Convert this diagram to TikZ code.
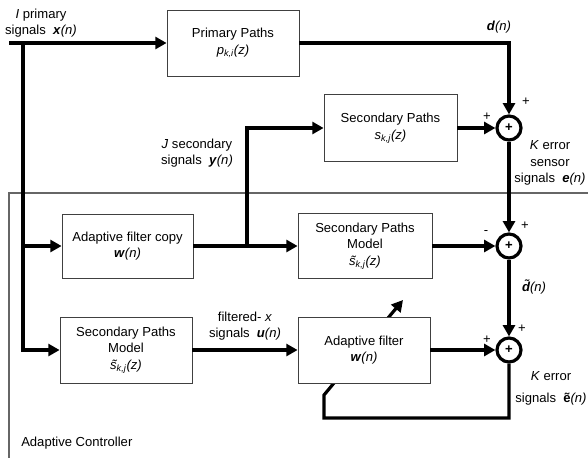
\documentclass[tikz,border=0pt]{standalone}
\usepackage{fontspec}
\setmainfont{Liberation Sans}
\usetikzlibrary{calc,arrows.meta,backgrounds}

\newcommand{\sgn}[1]{\textbf{\textit{#1}}\textit{(n)}}

\tikzset{
  blk/.style={draw=black!75,line width=0.6pt,fill=white,align=center,inner sep=1pt},
  sumnode/.style={circle,draw,line width=2.4pt,fill=white,minimum size=18pt,inner sep=0pt},
  sig/.style={line width=2.4pt,-{Triangle[length=8.5pt,width=9pt]}},
  wire/.style={line width=2.4pt},
  lbl/.style={align=center,inner sep=0pt},
}

\begin{document}
\begin{tikzpicture}[x=0.75pt,y=-0.75pt,font=\fontsize{9.8}{12.5}\selectfont]
  \useasboundingbox (0,0) rectangle (588,457);

  %% Blocks
  \node[blk,minimum width=99pt,minimum height=49.5pt] (PP) at (233,43)
    {Primary Paths\\ \textit{p\textsubscript{k,i}(z)}};
  \node[blk,minimum width=99.75pt,minimum height=50.25pt] (SP) at (390.5,128)
    {Secondary Paths\\ \textit{s\textsubscript{k,j}(z)}};
  \node[blk,minimum width=98.25pt,minimum height=48pt] (AFC) at (127.5,246)
    {Adaptive filter copy\\ \sgn{w}};
  \node[blk,minimum width=100.5pt,minimum height=48.75pt] (SPM) at (365,246)
    {Secondary Paths\\ Model\\ \textit{\~{s}\textsubscript{k,j}(z)}};
  \node[blk,minimum width=99pt,minimum height=49.5pt] (SPMF) at (126,350)
    {Secondary Paths\\ Model\\ \textit{\~{s}\textsubscript{k,j}(z)}};
  \node[blk,minimum width=99pt,minimum height=49.5pt] (AF) at (364,350)
    {Adaptive filter\\ \sgn{w}};

  %% Summing junctions
  \foreach \n/\y in {S1/128,S2/246,S3/350}
  {
    \node[sumnode] (\n) at (509,\y) {\textbf{+}};
  }

  %% Branch points and corners
  \coordinate (IN) at (9,43);
  \coordinate (J1) at (23,43);
  \coordinate (J2) at (23,246);
  \coordinate (J3) at (247,246);
  \coordinate (FB1) at (509,418);
  \coordinate (FB2) at (324,418);
  \coordinate (FB3) at (324,395);
  \coordinate (FB4) at (403,300);
  \coordinate (AC1) at (9,460);
  \coordinate (AC2) at (9,193);
  \coordinate (AC3) at (590,193);

  \begin{scope}[on background layer]
    \draw[draw=black!60,line width=0.9pt] (AC1) -- (AC2) -- (AC3);
    \draw[sig] (S3) -- (FB1) -- (FB2) -- (FB3) -- (FB4);
  \end{scope}

  %% Signal paths
  \draw[sig] (IN) -- (PP);
  \draw[sig] (J1) |- (SPMF);
  \draw[sig] (J2) -- (AFC);
  \draw[sig] (PP) -| (S1);
  \draw[sig] (AFC) -- (SPM);
  \draw[sig] (J3) |- (SP);
  \draw[sig] (SP) -- (S1);
  \draw[sig] (S1) -- (S2);
  \draw[sig] (SPM) -- (S2);
  \draw[sig] (S2) -- (S3);
  \draw[sig] (SPMF) -- (AF);
  \draw[sig] (AF) -- (S3);

  %% Labels
  \node[lbl] (Lx) at (41,23) {\textit{I} primary\\ signals~~\sgn{x}};
  \node[lbl] (Ld) at (499,27) {\sgn{d}};
  \node[lbl] (Ly) at (197,153) {\textit{J} secondary\\ signals~~\sgn{y}};
  \node[lbl] (Le) at (550,163) {\textit{K} error\\ sensor\\ signals~~\sgn{e}};
  \node[lbl] (Ldt) at (534,287) {\textbf{\textit{\~{d}}}\textit{(n)}};
  \node[lbl] (Lu) at (245,326) {filtered-~\textit{x}\\ signals~~\sgn{u}};
  \node[lbl] (Let) at (551,388) {\textit{K} error\\[4pt] signals~~\textbf{\~{e}}\textit{(n)}};
  \node[lbl,anchor=west] (Lac) at (21,443) {Adaptive Controller};

  %% Signs at the junctions
  \foreach \s/\x/\y in {+/526/102,+/487/117,-/486/233,+/525/226,+/487/340,+/522/329}
  {
    \node[lbl] at (\x,\y) {\s};
  }
\end{tikzpicture}
\end{document}
